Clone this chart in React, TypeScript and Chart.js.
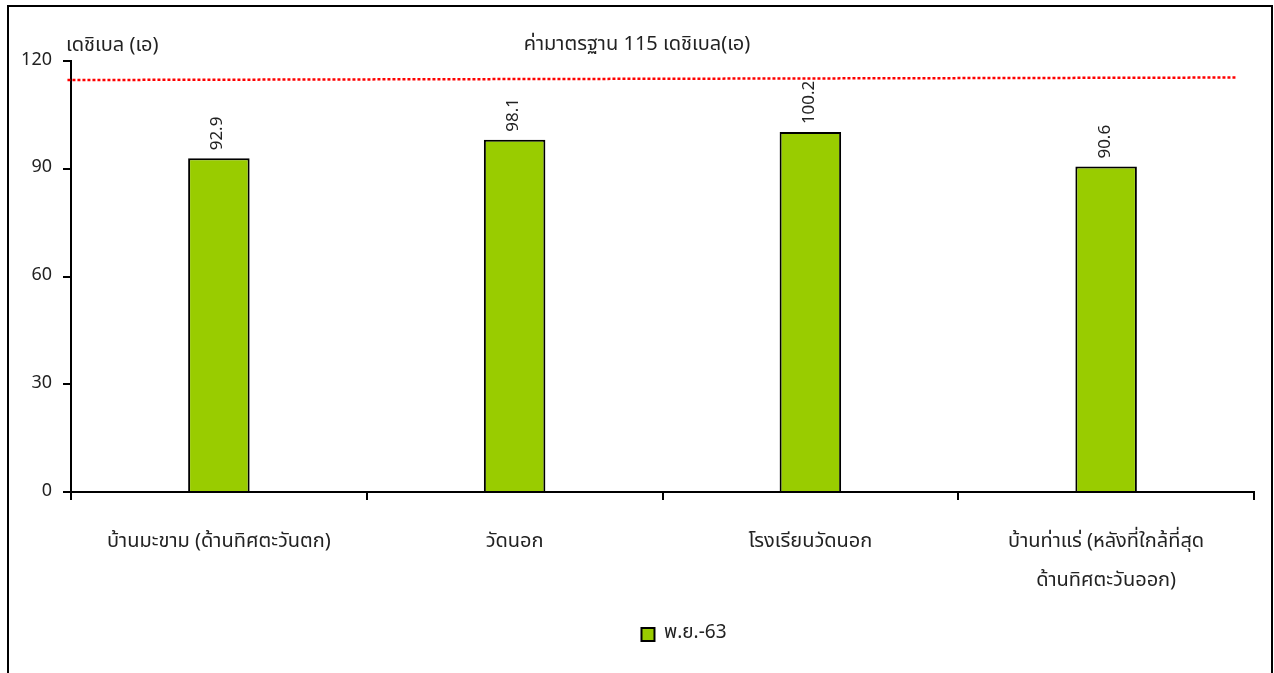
import React, { useEffect, useRef } from "react";
import { Chart, registerables } from "chart.js";

Chart.register(...registerables);

const categories: (string | string[])[] = [
  "บ้านมะขาม (ด้านทิศตะวันตก)",
  "วัดนอก",
  "โรงเรียนวัดนอก",
  ["บ้านท่าแร่ (หลังที่ใกล้ที่สุด", "ด้านทิศตะวันออก)"],
];
const seriesName = "พ.ย.-63";
const noiseValues = [92.9, 98.1, 100.2, 90.6];
const standardLineX = [-0.003, 0.986];
const standardLineY = [114.7, 115.4];
const yTicks = [0, 30, 60, 90, 120];
const yAxisTitle = "เดชิเบล (เอ)";
const standardTitle = "ค่ามาตรฐาน 115 เดชิเบล(เอ)";

const FONT = "'Noto Sans Thai', 'Noto Sans', sans-serif";
const TEXT = "#222";
const LEGEND_SHIFT = 57;

const legendShiftPlugin = {
  id: "legendShift",
  afterLayout(chart: any) {
    const lg = chart.legend;
    if (lg) {
      lg.left += LEGEND_SHIFT;
      lg.right += LEGEND_SHIFT;
    }
  },
};

const textPlugin = {
  id: "texts",
  afterDraw(chart: any) {
    const ctx = chart.ctx;
    const area = chart.chartArea;
    ctx.save();
    ctx.fillStyle = TEXT;
    ctx.font = `20px ${FONT}`;
    ctx.textBaseline = "middle";
    ctx.textAlign = "left";
    ctx.fillText(yAxisTitle, area.left - 5, area.top - 14);
    ctx.textAlign = "center";
    ctx.fillText(standardTitle, chart.width / 2, area.top - 15);
    // bar value labels
    ctx.font = `17px ${FONT}`;
    const meta = chart.getDatasetMeta(0);
    meta.data.forEach((bar: any, i: number) => {
      ctx.save();
      ctx.translate(bar.x, bar.y - 8);
      ctx.rotate(-Math.PI / 2);
      ctx.textAlign = "left";
      ctx.textBaseline = "middle";
      ctx.fillText(String(noiseValues[i]), 0, 0);
      ctx.restore();
    });
    ctx.restore();
  },
};

export default function App() {
  const ref = useRef<HTMLCanvasElement | null>(null);
  useEffect(() => {
    document.body.style.margin = "0";
    const chart = new Chart(ref.current as HTMLCanvasElement, {
      type: "bar",
      data: {
        labels: categories as any,
        datasets: [
          {
            type: "bar",
            label: seriesName,
            data: noiseValues,
            backgroundColor: "#99CC00",
            borderColor: "#000",
            borderWidth: 2,
            barPercentage: 0.208,
            categoryPercentage: 1,
            grouped: false,
          } as any,
          {
            type: "line",
            label: "standard",
            xAxisID: "x2",
            data: standardLineX.map((x, i) => ({ x, y: standardLineY[i] })),
            borderColor: "#FF0000",
            borderWidth: 2.5,
            borderDash: [3, 2],
            pointRadius: 0,
            fill: false,
            clip: false,
          } as any,
        ],
      },
      options: {
        animation: false,
        responsive: false,
        devicePixelRatio: 1,
        layout: { padding: { left: 0, right: 20, top: 61, bottom: 19 } },
        plugins: {
          title: { display: false },
          tooltip: { enabled: false },
          legend: {
            position: "bottom",
            labels: {
              boxWidth: 13,
              boxHeight: 13,
              color: TEXT,
              font: { family: FONT, size: 19 },
              filter: (item: any) => item.datasetIndex === 0,
            },
          },
        },
        scales: {
          x: {
            type: "category",
            offset: true,
            afterFit: (scale: any) => {
              scale.height = 123;
            },
            grid: {
              display: true,
              offset: true,
              drawOnChartArea: false,
              drawTicks: true,
              tickLength: 8,
              color: "#000",
              lineWidth: 2,
            },
            border: { display: true, color: "#000", width: 2 },
            ticks: {
              color: TEXT,
              padding: 23,
              maxRotation: 0,
              autoSkip: false,
              font: { family: FONT, size: 20, lineHeight: 1.97 },
            },
          },
          x2: {
            type: "linear",
            display: false,
            offset: false,
            min: 0,
            max: 1,
          },
          y: {
            min: 0,
            max: 120,
            afterBuildTicks: (scale: any) => {
              scale.ticks = yTicks.map((v) => ({ value: v }));
            },
            afterFit: (scale: any) => {
              scale.width = 71;
            },
            grid: {
              display: true,
              drawOnChartArea: false,
              drawTicks: true,
              tickLength: 8,
              color: "#000",
              lineWidth: 2,
            },
            border: { display: true, color: "#000", width: 2 },
            ticks: {
              color: TEXT,
              padding: 11,
              font: { family: FONT, size: 18 },
            },
          },
        },
      },
      plugins: [legendShiftPlugin, textPlugin],
    });
    return () => chart.destroy();
  }, []);

  return (
    <div style={{ position: "absolute", left: 0, top: 0, width: 1274, height: 673, background: "#fff", overflow: "hidden" }}>
      <canvas ref={ref} width={1274} height={673} style={{ display: "block" }} />
      <div
        style={{
          position: "absolute",
          left: 7,
          top: 5,
          width: 1262,
          height: 720,
          border: "2px solid #000",
          pointerEvents: "none",
        }}
      />
    </div>
  );
}
